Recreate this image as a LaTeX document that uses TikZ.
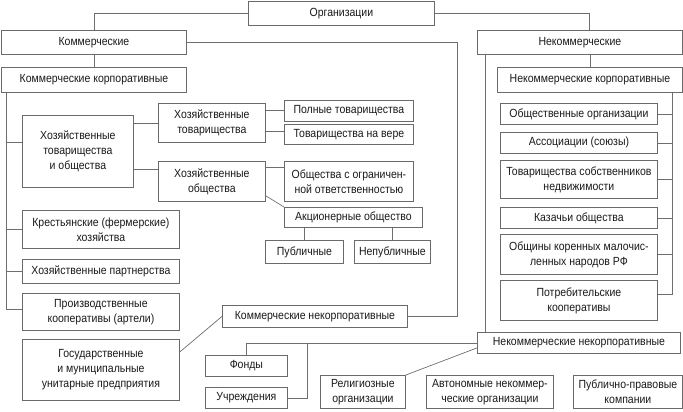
\documentclass[tikz,border=0pt]{standalone}
\usepackage{fontspec}
\setmainfont{Liberation Sans}[FakeStretch=0.89]
\usetikzlibrary{calc}
\definecolor{boxgray}{HTML}{6A6A6A}
\definecolor{linegray}{HTML}{6E6E6E}
\definecolor{txt}{HTML}{1A1A1A}
\tikzset{
  box/.style={draw=boxgray, line width=0.8pt, fill=white, align=center,
    inner sep=1pt, anchor=north west, text=txt,
    font=\fontsize{11.8}{15}\selectfont},
  conn/.style={draw=linegray, line width=0.7pt},
}
\newcommand\bx[6]{\node[box, minimum width=#4pt, minimum height=#5pt] (#1) at (#2,#3) {#6};}
\begin{document}
\begin{tikzpicture}[x=1pt, y=-1pt]
\useasboundingbox (0,0) rectangle (683,412);
% top level
\bx{org}{248}{1}{186}{24}{Организации}
\bx{komm}{1}{30}{185}{24}{Коммерческие}
\bx{nekomm}{477}{30}{205}{24}{Некоммерческие}
\bx{kk}{1}{67}{185}{25}{Коммерческие корпоративные}
\bx{nk}{497}{67}{185}{25}{Некоммерческие корпоративные}
% commercial corporate
\bx{htio}{22}{115}{111}{72}{Хозяйственные\\товарищества\\и общества}
\bx{ht}{158}{103}{107}{39}{Хозяйственные\\товарищества}
\bx{ho}{158}{161}{107}{40}{Хозяйственные\\общества}
\bx{pt}{284}{100}{129}{21}{Полные товарищества}
\bx{tnv}{284}{124}{129}{20}{Товарищества на вере}
\bx{ooo}{284}{161}{129}{40}{Общества с ограничен-\\ной ответственностью}
\bx{ao}{284}{207}{138}{20}{Акционерные общество}
\bx{pub}{265}{240}{78}{23}{Публичные}
\bx{nepub}{354}{240}{76}{23}{Непубличные}
\bx{krest}{22}{210}{157}{38}{Крестьянские (фермерские)\\хозяйства}
\bx{hp}{22}{259}{157}{24}{Хозяйственные партнерства}
\bx{prod}{22}{293}{157}{37}{Производственные\\кооперативы (артели)}
\bx{gos}{22}{339}{157}{61}{Государственные\\и муниципальные\\унитарные предприятия}
% commercial non-corporate
\bx{kn}{222}{305}{185}{22}{Коммерческие некорпоративные}
% non-commercial non-corporate
\bx{nn}{477}{332}{203}{21}{Некоммерческие некорпоративные}
\bx{fond}{205}{355}{82}{21}{Фонды}
\bx{uchr}{205}{387}{82}{21}{Учреждения}
\bx{rel}{320}{375}{85}{33}{Религиозные\\организации}
\bx{avt}{426}{375}{127}{33}{Автономные некоммер-\\ческие организации}
\bx{ppk}{573}{375}{109}{33}{Публично-правовые\\компании}
% non-commercial corporate
\bx{oo}{500}{103}{157}{21}{Общественные организации}
\bx{assoc}{500}{132}{157}{21}{Ассоциации (союзы)}
\bx{tsn}{500}{160}{157}{38}{Товарищества собственников\\недвижимости}
\bx{kaz}{500}{207}{157}{21}{Казачьи общества}
\bx{obsh}{500}{234}{157}{40}{Общины коренных малочис-\\ленных народов РФ}
\bx{potr}{500}{280}{157}{40}{Потребительские\\кооперативы}
% connectors: top
\draw[conn] (org.west) -| (komm.north);
\draw[conn] (org.east) -| ([xshift=9.5pt]nekomm.north);
\draw[conn] (komm.south) -- (kk.north);
\draw[conn] (nk.north) -- (nk.north |- nekomm.south);
\draw[conn] (komm.east) -| ([xshift=50pt]kn.east) -- (kn.east);
% left trunk
\coordinate (tr) at ([xshift=5pt]kk.south west);
\draw[conn] (tr) |- ([yshift=2.5pt]prod.west);
\coordinate (b1) at ([yshift=9pt]htio.west);
\draw[conn] (b1) -- (b1 -| tr);
\draw[conn] (krest.west) -- (krest.west -| tr);
\draw[conn] (hp.west) -- (hp.west -| tr);
% business partnerships / companies
\draw[conn] (ht.west) -- (ht.west -| htio.east);
\coordinate (b2) at ([yshift=12pt]ho.west);
\draw[conn] (b2) -- (b2 -| htio.east);
\coordinate (b4) at ([yshift=0.5pt]pt.west);
\draw[conn] (b4) -- (b4 -| ht.east);
\coordinate (b5) at ([yshift=3pt]tnv.west);
\draw[conn] (b5) -- (b5 -| ht.east);
\coordinate (b3) at ([yshift=14pt]ooo.west);
\draw[conn] (b3) -- (b3 -| ho.east);
\draw[conn] ([yshift=6pt]ho.south east) -- (ao.north west);
\draw[conn] (pub.north) -- (pub.north |- ao.south);
\draw[conn] (nepub.north) -- (nepub.north |- ao.south);
% state enterprises to commercial non-corporate
\draw[conn] ([yshift=-13pt]gos.north east) -- (kn.west);
% right trunk
\coordinate (rt) at ([xshift=-10pt]nk.south east);
\draw[conn] (rt) |- ([yshift=6pt]potr.east);
\draw[conn] (oo.east) -- (oo.east -| rt);
\draw[conn] (assoc.east) -- (assoc.east -| rt);
\draw[conn] (tsn.east) -- (tsn.east -| rt);
\draw[conn] (kaz.east) -- (kaz.east -| rt);
\draw[conn] (obsh.east) -- (obsh.east -| rt);
% non-commercial non-corporate
\draw[conn] ([xshift=8pt]nekomm.south west) -- ([xshift=8pt]nn.north west);
\draw[conn] (nn.west) -| (fond.north);
\coordinate (u1) at ([xshift=20pt]uchr.east);
\draw[conn] (uchr.east) -- (u1) -- (u1 |- nn.west);
\draw[conn] ([yshift=-5pt]nn.west) -- (rel.north east);
\end{tikzpicture}
\end{document}
